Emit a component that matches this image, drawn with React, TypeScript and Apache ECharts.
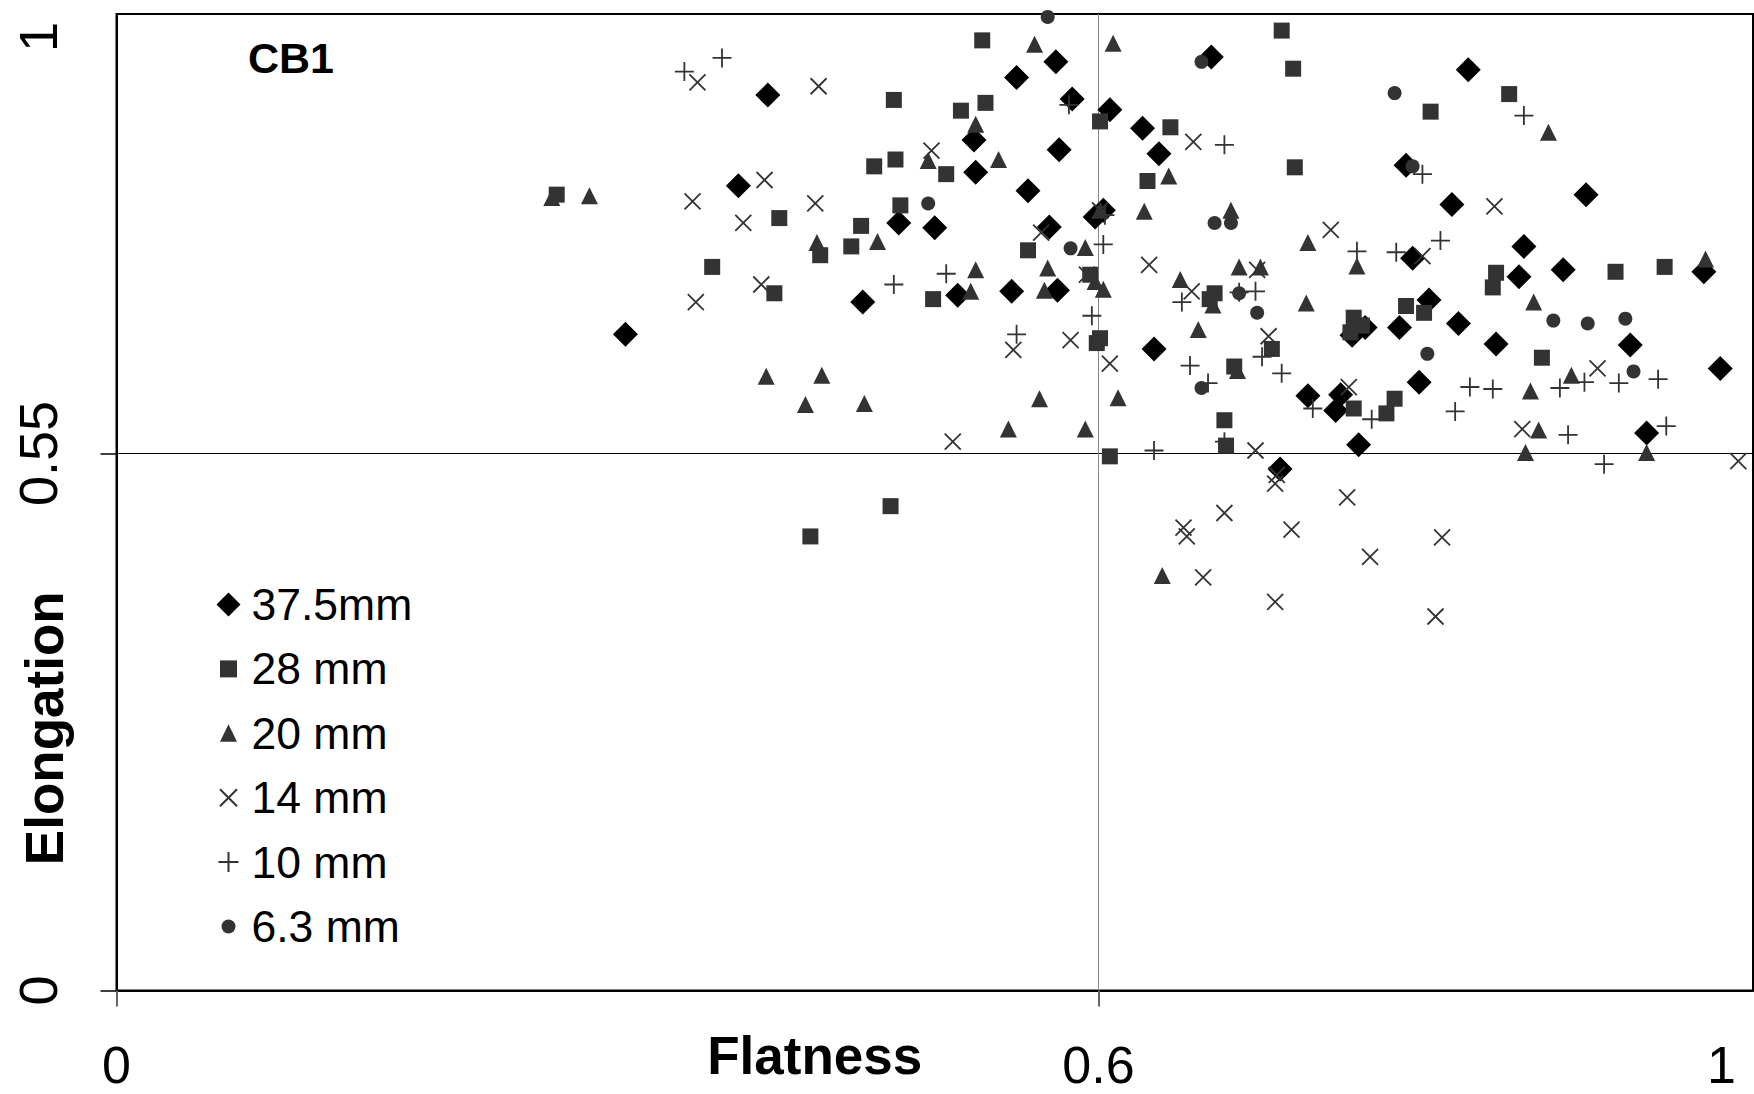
import React, { useEffect, useRef } from "react";
import * as echarts from "echarts";

const names = ["37.5mm", "28 mm", "20 mm", "14 mm", "10 mm", "6.3 mm"];
const xTicks = [0, 0.6, 1];
const yTicks = [0, 0.55, 1];
const xMarks = [0, 0.6];
const yMarks = [0, 0.55];

const d375 = [[.398,.917],[.380,.824],[.311,.672],[.456,.705],[.478,.786],[.500,.781],[.514,.712],[.547,.716],[.575,.717],[.524,.871],[.525,.838],[.557,.819],[.570,.782],[.576,.861],[.584,.913],[.574,.951],[.550,.935],[.669,.956],[.826,.943],[.607,.902],[.627,.883],[.637,.857],[.788,.845],[.816,.805],[.898,.815],[.603,.799],[.598,.792],[.860,.762],[.792,.750],[.884,.738],[.857,.731],[.970,.736],[.802,.707],[.820,.683],[.784,.679],[.763,.679],[.755,.671],[.843,.662],[.634,.657],[.925,.661],[.980,.637],[.796,.623],[.728,.609],[.748,.610],[.745,.594],[.759,.559],[.935,.571],[.711,.534]];
const d28 = [[.529,.973],[.475,.912],[.516,.901],[.531,.909],[.476,.851],[.463,.844],[.507,.836],[.269,.815],[.479,.804],[.405,.791],[.455,.783],[.449,.762],[.430,.753],[.557,.758],[.364,.741],[.402,.714],[.499,.708],[.595,.733],[.601,.668],[.599,.663],[.601,.890],[.712,.983],[.719,.944],[.851,.918],[.803,.900],[.644,.884],[.720,.843],[.630,.829],[.843,.735],[.841,.720],[.916,.736],[.946,.741],[.788,.701],[.799,.694],[.671,.714],[.668,.708],[.756,.689],[.761,.681],[.754,.674],[.706,.657],[.871,.648],[.683,.639],[.781,.606],[.756,.596],[.776,.591],[.677,.584],[.678,.558],[.607,.547],[.473,.496],[.424,.465]];
const d20 = [[.266,.812],[.289,.814],[.428,.766],[.465,.767],[.496,.850],[.525,.887],[.539,.851],[.561,.969],[.525,.738],[.522,.716],[.567,.717],[.569,.740],[.397,.629],[.431,.630],[.421,.600],[.457,.601],[.564,.606],[.545,.575],[.592,.575],[.609,.970],[.875,.879],[.643,.834],[.628,.798],[.681,.799],[.601,.799],[.592,.761],[.728,.766],[.758,.742],[.971,.749],[.686,.741],[.699,.741],[.650,.728],[.598,.726],[.603,.718],[.670,.702],[.727,.704],[.866,.705],[.661,.677],[.685,.635],[.889,.630],[.612,.607],[.864,.614],[.869,.574],[.861,.551],[.935,.551],[.639,.425]];
const d14 = [[.355,.930],[.429,.926],[.498,.860],[.396,.830],[.352,.808],[.427,.806],[.383,.786],[.394,.723],[.354,.705],[.565,.776],[.583,.666],[.548,.656],[.511,.562],[.593,.733],[.658,.869],[.601,.799],[.842,.803],[.742,.779],[.631,.743],[.798,.752],[.697,.738],[.657,.716],[.704,.670],[.607,.642],[.753,.618],[.905,.637],[.859,.575],[.696,.553],[.991,.542],[.709,.528],[.708,.519],[.752,.505],[.677,.489],[.652,.474],[.654,.465],[.718,.472],[.810,.464],[.766,.444],[.664,.423],[.708,.398],[.806,.383]];
const d10 = [[.347,.941],[.370,.955],[.582,.907],[.507,.734],[.475,.723],[.596,.691],[.550,.672],[.677,.866],[.798,.836],[.860,.896],[.604,.794],[.603,.764],[.809,.768],[.758,.757],[.782,.756],[.686,.715],[.696,.716],[.651,.705],[.700,.649],[.656,.640],[.712,.632],[.667,.622],[.827,.618],[.841,.616],[.882,.617],[.897,.623],[.918,.622],[.942,.626],[.731,.596],[.767,.585],[.818,.593],[.947,.578],[.887,.569],[.634,.553],[.677,.562],[.909,.539]];
const d63 = [[.569,.997],[.496,.806],[.583,.760],[.663,.951],[.781,.919],[.792,.844],[.671,.786],[.681,.786],[.686,.714],[.697,.694],[.878,.686],[.899,.683],[.922,.688],[.801,.652],[.927,.634],[.663,.617]];
const seriesValues = [d375, d28, d20, d14, d10, d63];

const CROSS = "path://M0 0L10 10M10 0L0 10";
const PLUS = "path://M5 0L5 10M0 5L10 5";
const symbols = ["diamond", "rect", "triangle", CROSS, PLUS, "circle"];
const sizes = [25, 16, 17, 16, 19, 14];
const fills = ["#000000", "#333333", "#333333", "none", "none", "#333333"];
const strokes = ["#000000", "#333333", "#333333", "#333333", "#333333", "#333333"];
const strokeWidths = [0, 0, 0, 1.8, 1.8, 0];
const legendIcons = [
  "path://M0 12L12 0L24 12L12 24Z",
  "path://M0 0M24 24M3.5 3.5H20.5V20.5H3.5Z",
  "path://M0 0M24 24M3.5 20.5L12 3L20.5 20.5Z",
  "path://M0 0M24 24M3.5 3.5L20.5 20.5M20.5 3.5L3.5 20.5",
  "path://M0 0M24 24M2 12H22M12 2V22",
  "path://M0 0M24 24M12 5A7 7 0 1 1 12 19A7 7 0 1 1 12 5Z",
];

const FONT = "Liberation Sans";

export default function App() {
  const ref = useRef<HTMLDivElement>(null);
  useEffect(() => {
    document.body.style.margin = "0";
    const chart = echarts.init(ref.current!, undefined, { renderer: "svg" });
    chart.setOption({
      animation: false,
      backgroundColor: "#ffffff",
      textStyle: { fontFamily: FONT },
      title: {
        text: "CB1",
        left: 243,
        top: 31,
        textStyle: { fontFamily: FONT, fontSize: 43, fontWeight: "bold", color: "#000" },
      },
      legend: {
        orient: "vertical",
        left: 209,
        top: 577,
        itemWidth: 24,
        itemHeight: 24,
        itemGap: 19.4,
        align: "left",
        selectedMode: false,
        textStyle: { fontFamily: FONT, fontSize: 44.5, color: "#000", padding: [0, 0, 0, 6] },
        data: names.map((name, i) => ({ name, icon: legendIcons[i] })),
      },
      grid: {
        left: 116.5,
        top: 14,
        right: 1,
        bottom: 103.5,
        show: true,
        borderColor: "#000",
        borderWidth: 2,
        outerBoundsMode: "none",
      },
      xAxis: {
        type: "value",
        min: 0,
        max: 1,
        name: "Flatness",
        nameLocation: "middle",
        nameMoveOverlap: false,
        nameGap: 38,
        nameTextStyle: {
          fontFamily: FONT,
          fontSize: 53,
          fontWeight: "bold",
          color: "#000",
          padding: [0, 240, 0, 0],
        },
        axisLine: { show: true, lineStyle: { color: "#000", width: 2 } },
        axisTick: { show: true, length: 16, customValues: xMarks, lineStyle: { color: "#666", width: 2 } },
        axisLabel: {
          customValues: xTicks,
          margin: 48,
          fontFamily: FONT,
          fontSize: 52,
          color: "#000",
          alignMinLabel: "center",
          alignMaxLabel: "right",
          formatter: (v: number) => (v === 1 ? "{r|1}" : String(v)),
          rich: { r: { fontFamily: FONT, fontSize: 52, color: "#000", padding: [0, 17, 0, 0] } },
        },
        splitLine: { show: true, lineStyle: { color: "#888", width: 1 } },
      },
      yAxis: {
        type: "value",
        min: 0,
        max: 1,
        name: "Elongation",
        nameLocation: "middle",
        nameMoveOverlap: false,
        nameGap: 45.5,
        nameTextStyle: {
          fontFamily: FONT,
          fontSize: 53,
          fontWeight: "bold",
          color: "#000",
          padding: [0, 452, 0, 0],
        },
        axisLine: { show: true, lineStyle: { color: "#000", width: 2 } },
        axisTick: { show: true, length: 16, customValues: yMarks, lineStyle: { color: "#000", width: 1.5 } },
        axisLabel: {
          customValues: yTicks,
          rotate: 90,
          margin: 52,
          fontFamily: FONT,
          fontSize: 54,
          color: "#000",
          alignMinLabel: "center",
          alignMaxLabel: "center",
          formatter: (v: number) => (v === 1 ? "{r|1}" : String(v)),
          rich: { r: { fontFamily: FONT, fontSize: 54, color: "#000", padding: [26, 46, 0, 0] } },
        },
        splitLine: { show: true, lineStyle: { color: "#000", width: 1 } },
      },
      series: names.map((name, i) => ({
        name,
        type: "scatter",
        clip: false,
        symbol: symbols[i],
        symbolSize: sizes[i],
        data: seriesValues[i],
        z: 10 + i,
        itemStyle: {
          color: fills[i],
          borderColor: strokes[i],
          borderWidth: strokeWidths[i],
          opacity: 1,
        },
      })),
    });
    return () => chart.dispose();
  }, []);
  return <div ref={ref} style={{ width: 1754, height: 1094 }} />;
}
